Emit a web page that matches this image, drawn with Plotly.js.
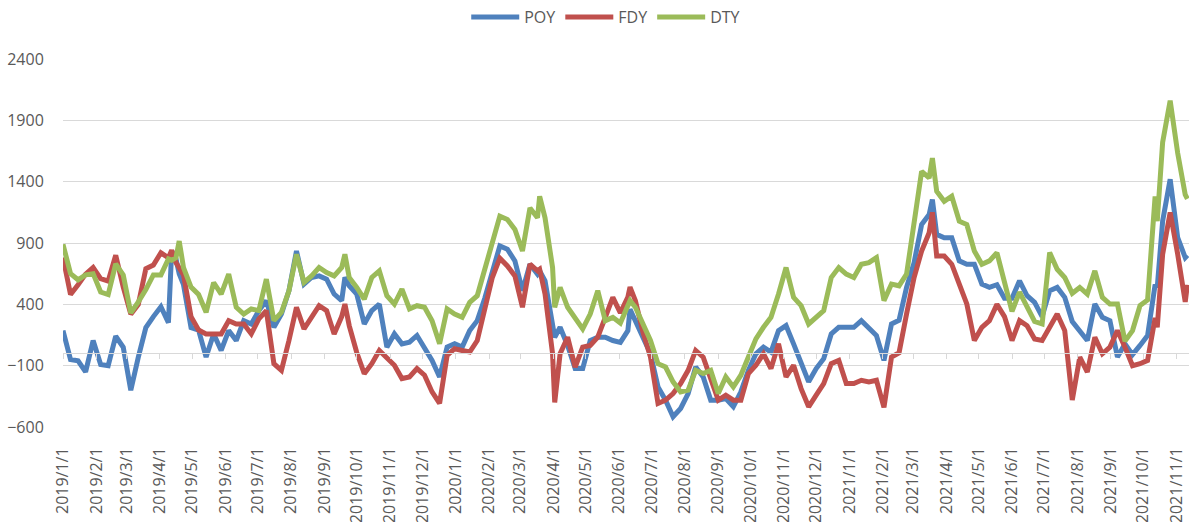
<!DOCTYPE html>
<html>
<head>
<meta charset="utf-8">
<script src="https://cdn.plot.ly/plotly-3.0.1.min.js"></script>
<style>html,body{margin:0;padding:0;background:#fff;}#chart{width:1189px;height:522px;}</style>
</head>
<body>
<div id="chart"></div>
<script>
var dates = [
'2019-01-01','2019-01-08','2019-01-15','2019-01-22','2019-01-29','2019-02-05','2019-02-12','2019-02-19','2019-02-26',
'2019-03-05','2019-03-12','2019-03-19','2019-03-26','2019-04-02','2019-04-09','2019-04-12','2019-04-16','2019-04-19',
'2019-04-23','2019-04-30','2019-05-07','2019-05-14','2019-05-21','2019-05-28','2019-06-04','2019-06-11','2019-06-18',
'2019-06-25','2019-07-02','2019-07-09','2019-07-16','2019-07-23','2019-07-30','2019-08-06','2019-08-13','2019-08-20',
'2019-08-27','2019-09-03','2019-09-10','2019-09-17','2019-09-20','2019-09-24','2019-10-01','2019-10-08','2019-10-15',
'2019-10-22','2019-10-29','2019-11-05','2019-11-12','2019-11-19','2019-11-26','2019-12-03','2019-12-10','2019-12-17',
'2019-12-24','2019-12-31','2020-01-07','2020-01-14','2020-01-21','2020-01-28','2020-02-04','2020-02-11','2020-02-18',
'2020-02-25','2020-03-03','2020-03-10','2020-03-17','2020-03-19','2020-03-24','2020-03-31','2020-04-02','2020-04-07',
'2020-04-14','2020-04-21','2020-04-28','2020-05-05','2020-05-12','2020-05-19','2020-05-26','2020-06-02','2020-06-09',
'2020-06-11','2020-06-16','2020-06-23','2020-06-30','2020-07-07','2020-07-14','2020-07-21','2020-07-28','2020-08-04',
'2020-08-11','2020-08-18','2020-08-25','2020-09-01','2020-09-08','2020-09-15','2020-09-22','2020-09-29','2020-10-06',
'2020-10-13','2020-10-20','2020-10-27','2020-11-03','2020-11-10','2020-11-17','2020-11-24','2020-12-01','2020-12-08',
'2020-12-15','2020-12-22','2020-12-29','2021-01-05','2021-01-12','2021-01-19','2021-01-26','2021-02-02','2021-02-09',
'2021-02-16','2021-02-23','2021-03-02','2021-03-09','2021-03-16','2021-03-19','2021-03-23','2021-03-30','2021-04-06',
'2021-04-13','2021-04-20','2021-04-27','2021-05-04','2021-05-11','2021-05-18','2021-05-25','2021-06-01','2021-06-08',
'2021-06-15','2021-06-22','2021-06-29','2021-07-06','2021-07-13','2021-07-20','2021-07-27','2021-08-03','2021-08-10',
'2021-08-17','2021-08-24','2021-08-31','2021-09-07','2021-09-14','2021-09-21','2021-09-28','2021-10-05','2021-10-12',
'2021-10-14','2021-10-19','2021-10-26','2021-11-02','2021-11-09','2021-11-11'
];

var poy = [
186,-50,-60,-150,105,-90,-100,140,50,
-300,-30,210,300,380,250,835,770,650,
560,210,190,-30,159,24,186,105,267,
240,349,430,213,321,511,835,565,619,
632,605,484,430,620,551,484,240,349,
402,51,159,78,92,146,51,-57,-192,
51,78,51,186,267,450,673,876,849,
754,511,727,646,673,592,186,132,213,
65,-124,-124,105,132,132,105,90,186,
360,267,132,-3,-273,-381,-516,-449,-327,
-111,-192,-381,-381,-368,-435,-314,-138,-3,
51,11,186,227,78,-70,-232,-124,-43,
159,213,213,213,267,213,146,-57,240,
270,538,740,1051,1132,1254,970,943,943,
754,727,727,565,538,560,450,450,592,
470,416,300,511,538,457,260,186,105,
403,294,267,-30,78,-10,65,145,560,
540,1078,1420,943,781,800
];

var fdy = [
781,480,560,646,700,610,590,800,540,
320,400,690,720,820,780,840,740,700,
640,300,190,159,159,159,267,240,240,
159,281,348,-84,-138,105,376,200,294,
389,348,159,300,402,227,7,-165,-84,
24,-43,-97,-205,-192,-124,-178,-314,-408,
-16,38,24,11,105,360,619,776,713,
632,376,727,673,686,484,-3,-400,-3,
132,-111,51,65,132,294,457,330,460,
540,430,173,-30,-408,-381,-327,-246,-138,
24,-30,-219,-381,-341,-381,-381,-165,-97,
-3,-124,78,-192,-97,-287,-435,-341,-246,
-84,-57,-246,-246,-219,-232,-219,-440,-30,
5,321,619,835,984,1150,794,794,727,
565,403,105,213,267,400,300,105,267,
225,118,105,213,321,186,-380,-30,-152,
132,-3,51,186,51,-100,-84,-57,290,
213,808,1150,808,420,560
];

var dty = [
889,650,600,640,650,500,480,730,640,
330,420,520,640,640,770,760,780,916,
700,540,480,335,578,484,646,376,321,
362,349,605,267,335,511,808,578,632,
700,659,632,700,808,619,538,443,619,
673,470,402,524,362,389,376,267,78,
362,321,294,416,470,690,916,1119,1092,
1011,835,1186,1105,1281,1105,700,376,538,
376,294,200,321,511,267,294,247,380,
430,376,240,105,-84,-111,-232,-314,-300,
-138,-165,-138,-327,-192,-273,-178,-30,119,
213,294,484,700,457,389,240,294,349,
619,700,646,619,727,740,781,430,565,
551,646,1078,1484,1430,1592,1322,1240,1281,
1078,1051,835,727,754,820,590,342,500,
382,260,240,822,686,619,490,538,484,
673,457,402,402,100,186,390,436,1280,
1078,1720,2060,1632,1294,1260
];

var tickVals = [
'2019-01-01','2019-02-01','2019-03-01','2019-04-01','2019-05-01','2019-06-01','2019-07-01','2019-08-01','2019-09-01','2019-10-01','2019-11-01','2019-12-01',
'2020-01-01','2020-02-01','2020-03-01','2020-04-01','2020-05-01','2020-06-01','2020-07-01','2020-08-01','2020-09-01','2020-10-01','2020-11-01','2020-12-01',
'2021-01-01','2021-02-01','2021-03-01','2021-04-01','2021-05-01','2021-06-01','2021-07-01','2021-08-01','2021-09-01','2021-10-01','2021-11-01'
];
var tickLabels = [
'2019/1/1','2019/2/1','2019/3/1','2019/4/1','2019/5/1','2019/6/1','2019/7/1','2019/8/1','2019/9/1','2019/10/1','2019/11/1','2019/12/1',
'2020/1/1','2020/2/1','2020/3/1','2020/4/1','2020/5/1','2020/6/1','2020/7/1','2020/8/1','2020/9/1','2020/10/1','2020/11/1','2020/12/1',
'2021/1/1','2021/2/1','2021/3/1','2021/4/1','2021/5/1','2021/6/1','2021/7/1','2021/8/1','2021/9/1','2021/10/1','2021/11/1'
];
var yTicks = [-600,-100,400,900,1400,1900,2400];

var xRange = ['2019-01-01', '2021-11-12 12:00'];
var font = {family: 'Open Sans, Liberation Sans, sans-serif', size: 16, color: '#595959'};

var traces = [
  {name: 'POY', x: dates, y: poy, type: 'scatter', mode: 'lines', line: {color: '#4F81BD', width: 5}},
  {name: 'FDY', x: dates, y: fdy, type: 'scatter', mode: 'lines', line: {color: '#C0504D', width: 5}},
  {name: 'DTY', x: dates, y: dty, type: 'scatter', mode: 'lines', line: {color: '#9BBB59', width: 5}},
  {x: [dates[0]], y: [0], xaxis: 'x2', type: 'scatter', mode: 'lines', showlegend: false, hoverinfo: 'skip', line: {width: 0}}
];

var layout = {
  width: 1189, height: 522,
  margin: {l: 63, r: 0, t: 57, b: 95},
  paper_bgcolor: '#ffffff', plot_bgcolor: '#ffffff',
  font: font,
  showlegend: true,
  legend: {orientation: 'h', x: 0.482, xanchor: 'center', y: 1.115, yanchor: 'middle', font: font, traceorder: 'normal', itemwidth: 48},
  xaxis: {
    type: 'date', range: xRange,
    tickvals: tickVals, ticktext: tickLabels, tickangle: -90,
    ticks: 'outside', ticklen: 13, tickcolor: 'rgba(0,0,0,0)',
    showgrid: false, zeroline: false, showline: false,
    tickfont: font
  },
  xaxis2: {
    type: 'date', range: xRange, overlaying: 'x', anchor: 'free', position: 0.2,
    tickvals: tickVals, showticklabels: false,
    ticks: 'outside', ticklen: 5, tickcolor: '#D9D9D9', tickwidth: 1,
    showline: true, linecolor: '#D9D9D9', linewidth: 1,
    showgrid: false, zeroline: false
  },
  yaxis: {
    range: [-600, 2400], tickvals: yTicks,
    showgrid: true, gridcolor: '#D9D9D9', gridwidth: 1,
    zeroline: false, showline: false,
    ticks: 'outside', ticklen: 15, tickcolor: 'rgba(0,0,0,0)',
    tickfont: font
  }
};

Plotly.newPlot('chart', traces, layout, {displayModeBar: false, staticPlot: true});
</script>
</body>
</html>
